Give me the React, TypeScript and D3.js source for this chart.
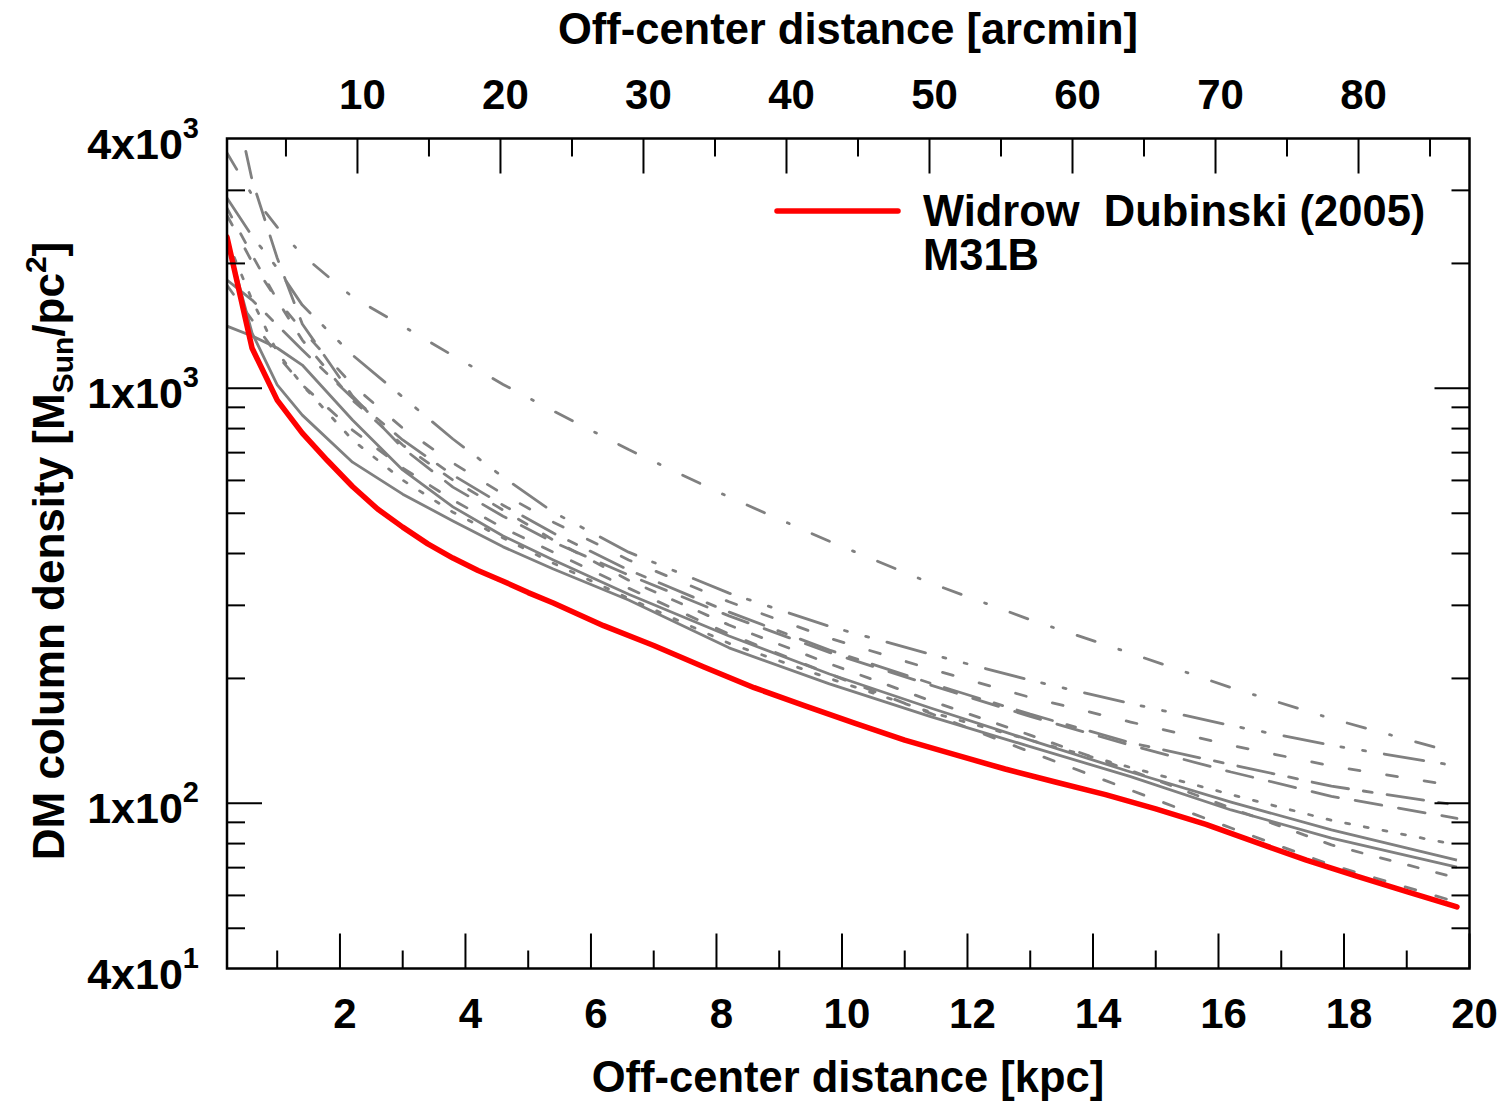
import React from "react";
import * as d3 from "d3";

// ---------- data ----------
const redX = [0.2, 0.6, 1.0, 1.4, 1.8, 2.2, 2.6, 3.0, 3.4, 3.8, 4.2, 4.6, 5.0, 5.4, 6.2, 7.0, 7.8, 8.6, 9.4, 10.2, 11.0, 11.8, 12.6, 13.4, 14.2, 15.0, 15.8, 16.6, 17.4, 18.2, 19.0, 19.8];
const redY = [2315, 1249, 937, 780, 670, 580, 512, 463, 422, 390, 364, 343, 322, 304, 268, 240, 213, 190, 172, 156, 142, 131, 121, 112.6, 105, 97, 89, 80.5, 73, 66.8, 61.3, 56.3];

const grayX = [0.2, 0.6, 1.0, 1.4, 2.2, 3.0, 3.8, 4.6, 5.4, 6.6, 8.2, 9.8, 11.4, 13.0, 14.6, 16.2, 17.8, 19.8];
const grayA = [3690, 2923, 2447, 2096, 1660, 1413, 1199, 1022, 882, 712, 547, 428, 340, 277, 230, 190, 160, 132];
const grayB = [2874, 2328, 1950, 1587, 1203, 953, 755, 611, 503, 403, 321, 267, 229, 198, 174, 154, 138, 123];
const grayC = [2612, 2016, 1632, 1382, 1019, 802, 661, 556, 476, 386, 306, 250, 211, 180, 157, 138, 123, 110];
const grayD = [1824, 1632, 1421, 1237, 948, 751, 618, 523, 448, 365, 289, 234, 195, 164, 140, 124, 110, 99];
const grayE = [6000, 3176, 2061, 1429, 958, 718, 578, 492, 426, 355, 283, 231, 193, 162, 138, 119, 104, 92];
const grayF = [2278, 1632, 1223, 1019, 751, 601, 503, 436, 379, 312, 243, 200, 166, 142, 122, 105, 91, 79.4];
const grayG1 = [2277, 1359, 1019, 862, 664, 556, 479, 415, 367, 309, 237, 194, 162, 137, 116, 96.4, 82.5, 70.2];
const grayG2 = [1412, 1337, 1251, 1138, 839, 636, 518, 441, 386, 319, 253, 205, 170, 142, 119, 100.7, 86.3, 73];
const grayH = [2716, 2096, 1632, 1307, 937, 730, 601, 509, 431, 345, 269, 217, 177, 146, 120, 97.4, 79.4, 66.1];
const grayI = [1771, 1461, 1203, 1019, 793, 643, 538, 461, 403, 330, 256, 205, 165, 133, 107.6, 87.2, 71, 57.8];

const graySeries = [grayA, grayB, grayC, grayD, grayE, grayF, grayG1, grayG2, grayH, grayI];
const grayDash = ["19,25,2,25", "40,18,3,19,3,19", "11,27", "37,15,9,15", "27,17", "4,15", "none", "none", "10,19", "11,21"];

const kpcTicksMajor = [2, 4, 6, 8, 10, 12, 14, 16, 18, 20];
const kpcTicksMinor = [1, 3, 5, 7, 9, 11, 13, 15, 17, 19];
const arcTicksMajor = [10, 20, 30, 40, 50, 60, 70, 80];
const arcTicksMinor = [5, 15, 25, 35, 45, 55, 65, 75, 85];
const yTicksMajor = [100, 1000];
const yTicksMinor = [50, 60, 70, 80, 90, 200, 300, 400, 500, 600, 700, 800, 900, 2000, 3000];
const yLabels = [
  { v: 4000, m: "4x10", e: "3" },
  { v: 1000, m: "1x10", e: "3" },
  { v: 100, m: "1x10", e: "2" },
  { v: 40, m: "4x10", e: "1" },
];
const ARCMIN_PER_KPC = 4.388;

const legendLabel1 = "Widrow  Dubinski (2005)";
const legendLabel2 = "M31B";

// ---------- layout ----------
const W = 1506, H = 1103;
const L = 227, R = 1469.5, T = 138.5, B = 968.5;
const FONT = "'Liberation Sans', Arial, Helvetica, sans-serif";

export default function App() {
  const x = d3.scaleLinear().domain([0.2, 20]).range([L, R]);
  const xa = d3.scaleLinear().domain([0.2 * ARCMIN_PER_KPC, 20 * ARCMIN_PER_KPC]).range([L, R]);
  const y = d3.scaleLog().domain([40, 4000]).range([B, T]);

  const line = (xs: number[], ys: number[]) =>
    d3.line<number>().x((_, i) => x(xs[i])).y((d) => y(d))(ys) || "";

  const majLen = 35, minLen = 18;
  const tickStroke = { stroke: "#000", strokeWidth: 2 };

  return (
    <svg width={W} height={H} style={{ position: "absolute", left: 0, top: 0, background: "#fff" }}
      fontFamily={FONT} fontWeight="bold">
      <defs>
        <clipPath id="plotclip">
          <rect x={L} y={T} width={R - L} height={B - T} />
        </clipPath>
      </defs>
      <rect x={0} y={0} width={W} height={H} fill="#fff" />

      {/* curves */}
      <g clipPath="url(#plotclip)" fill="none">
        {graySeries.map((s, i) => (
          <path key={i} d={line(grayX, s)} stroke="#808080" strokeWidth={2.8}
            strokeDasharray={grayDash[i]} strokeLinecap={grayDash[i] === "none" ? "butt" : "round"}
            strokeLinejoin="round" />
        ))}
        <path d={line(redX, redY)} stroke="#ff0000" strokeWidth={5.5} strokeLinecap="round" strokeLinejoin="round" />
      </g>

      {/* ticks */}
      <g>
        {kpcTicksMajor.map((t) => (
          <line key={"bM" + t} x1={x(t)} x2={x(t)} y1={B} y2={B - majLen} {...tickStroke} />
        ))}
        {kpcTicksMinor.map((t) => (
          <line key={"bm" + t} x1={x(t)} x2={x(t)} y1={B} y2={B - minLen} {...tickStroke} />
        ))}
        {arcTicksMajor.map((t) => (
          <line key={"tM" + t} x1={xa(t)} x2={xa(t)} y1={T} y2={T + majLen} {...tickStroke} />
        ))}
        {arcTicksMinor.map((t) => (
          <line key={"tm" + t} x1={xa(t)} x2={xa(t)} y1={T} y2={T + minLen} {...tickStroke} />
        ))}
        {yTicksMajor.map((t) => (
          <g key={"yM" + t}>
            <line x1={L} x2={L + majLen} y1={y(t)} y2={y(t)} {...tickStroke} />
            <line x1={R} x2={R - majLen} y1={y(t)} y2={y(t)} {...tickStroke} />
          </g>
        ))}
        {yTicksMinor.map((t) => (
          <g key={"ym" + t}>
            <line x1={L} x2={L + minLen} y1={y(t)} y2={y(t)} {...tickStroke} />
            <line x1={R} x2={R - minLen} y1={y(t)} y2={y(t)} {...tickStroke} />
          </g>
        ))}
      </g>

      {/* frame */}
      <rect x={L} y={T} width={R - L} height={B - T} fill="none" stroke="#000" strokeWidth={2.5} />

      {/* tick labels */}
      <g fontSize={42} textAnchor="middle" fill="#000">
        {kpcTicksMajor.map((t) => (
          <text key={"bl" + t} x={x(t) + 5} y={1028}>{t}</text>
        ))}
        {arcTicksMajor.map((t) => (
          <text key={"tl" + t} x={xa(t) + 5} y={109}>{t}</text>
        ))}
      </g>
      <g fontSize={43} textAnchor="end" fill="#000">
        {yLabels.map((l) => (
          <text key={"yl" + l.v} x={199} y={y(l.v) + 20}>
            {l.m}
            <tspan fontSize={29} dy={-21}>{l.e}</tspan>
          </text>
        ))}
      </g>

      {/* axis titles */}
      <text x={848} y={44} fontSize={43.5} textAnchor="middle">Off-center distance [arcmin]</text>
      <text x={848} y={1092} fontSize={43.5} textAnchor="middle">Off-center distance [kpc]</text>
      <text transform="translate(64,551) rotate(-90)" fontSize={44} textAnchor="middle">
        DM column density [M
        <tspan fontSize={30} dy={9}>Sun</tspan>
        <tspan dy={-9}>/pc</tspan>
        <tspan fontSize={30} dy={-18}>2</tspan>
        <tspan dy={18}>]</tspan>
      </text>

      {/* legend */}
      <line x1={777} x2={898} y1={211} y2={211} stroke="#ff0000" strokeWidth={5.5} strokeLinecap="round" />
      <text x={923} y={226} fontSize={43.5} style={{ whiteSpace: "pre" }}>{legendLabel1}</text>
      <text x={923} y={270} fontSize={43.5}>{legendLabel2}</text>
    </svg>
  );
}
